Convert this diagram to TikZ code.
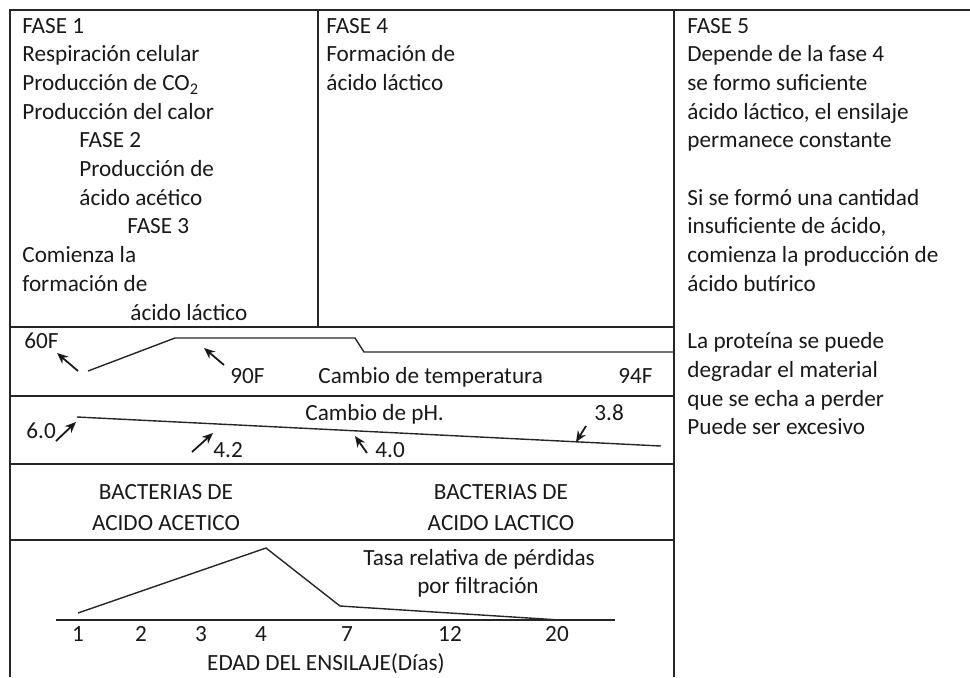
\documentclass[tikz,border=0pt]{standalone}
\usepackage{fontspec}
\setmainfont{Carlito}
\usetikzlibrary{positioning, calc, arrows.meta}

\begin{document}
\begin{tikzpicture}[x=0.5pt, y=-0.5pt,
  txt/.style={inner sep=0pt, anchor=base west, text=black!90, font=\fontsize{11.6}{14}\selectfont},
  ctxt/.style={txt, anchor=base},
  grid/.style={line width=0.9pt, draw=black!85},
  curve/.style={line width=0.7pt, draw=black!85},
  ptr/.style={-{Stealth[length=5.5pt, width=4.6pt]}, line width=0.9pt, draw=black!90, fill=black!90}]

\useasboundingbox (0,0) rectangle (970,677);

% frame
\draw[grid] (10,677) -- (10,10) -- (970,10);
\draw[grid] (674,10) -- (674,677);
\draw[grid] (318,10) -- (318,327);
\foreach \y in {327,396,464,540} \draw[grid] (10,\y) -- (674,\y);

% fases 1-3
\foreach \x/\t [count=\i from 0] in {22/FASE 1, 22/Respiración celular, 22/Producción de CO\textsubscript{2}, 22/Producción del calor, 79/FASE 2, 79/Producción de, 79/ácido acético, 127/FASE 3, 22/Comienza la, 22/formación de, 130/ácido láctico}
  \node[txt] (fa-\i) at (\x, 33+28.7*\i) {\t};

% fase 4
\foreach \t [count=\i from 0] in {FASE 4, Formación de, ácido láctico}
  \node[txt] (fb-\i) at (326, 33+28.7*\i) {\t};

% fase 5
\foreach \n/\t in {0/FASE 5, 1/Depende de la fase 4, 2/se formo suficiente, 3/{ácido láctico, el ensilaje}, 4/permanece constante, 6/Si se formó una cantidad, 7/{insuficiente de ácido,}, 8/comienza la producción de, 9/ácido butírico, 11/La proteína se puede, 12/degradar el material, 13/que se echa a perder, 14/Puede ser excesivo}
  \node[txt] (fc-\n) at (687, 33+28.7*\n) {\t};

% temperatura
\node[txt] (t60) at (24,348) {60F};
\node[txt] (t90) at (230,383) {90F};
\node[txt] (tlabel) at (318,383) {Cambio de temperatura};
\node[txt] (t94) at (618,383) {94F};
\coordinate (ta) at (88,371);
\coordinate (tb) at (175,338);
\coordinate (tc) at (355,338);
\coordinate (td) at (364,352);
\coordinate (te) at (674,352);
\draw[curve] (ta) -- (tb) -- (tc) -- (td) -- (te);
\coordinate (t60s) at (78,371);
\coordinate (t60e) at (57,353);
\draw[ptr] (t60s) -- (t60e);
\coordinate (t90s) at (224,365);
\coordinate (t90e) at (204,348);
\draw[ptr] (t90s) -- (t90e);

% pH
\node[txt] (phlabel) at (305,420) {Cambio de pH.};
\node[txt] (ph60) at (26,438) {6.0};
\node[txt] (ph42) at (213,457) {4.2};
\node[txt] (ph40) at (375,457) {4.0};
\node[txt] (ph38) at (594,420) {3.8};
\coordinate (pha) at (77,417);
\coordinate (phb) at (661,446);
\draw[curve] (pha) -- (phb);
\coordinate (ph60s) at (56,441);
\coordinate (ph60e) at (76,422);
\draw[ptr] (ph60s) -- (ph60e);
\coordinate (ph42s) at (192,452);
\coordinate (ph42e) at (213,433);
\draw[ptr] (ph42s) -- (ph42e);
\coordinate (ph40s) at (367,453);
\coordinate (ph40e) at (355,436);
\draw[ptr] (ph40s) -- (ph40e);
\coordinate (ph38s) at (586,426);
\coordinate (ph38e) at (576,442);
\draw[ptr] (ph38s) -- (ph38e);

% bacterias
\node[ctxt] (bac1) at (166,499) {BACTERIAS DE};
\node[ctxt] (bac2) at (166,530) {ACIDO ACETICO};
\node[ctxt] (bla1) at (501,499) {BACTERIAS DE};
\node[ctxt] (bla2) at (501,530) {ACIDO LACTICO};

% perdidas
\node[ctxt] (tasa1) at (479,565) {Tasa relativa de pérdidas};
\node[ctxt] (tasa2) at (478,593) {por filtración};
\coordinate (la) at (78,613);
\coordinate (lb) at (266,548);
\coordinate (lc) at (340,606);
\coordinate (ld) at (560,620);
\draw[curve] (la) -- (lb) -- (lc) -- (ld);
\coordinate (ax0) at (56,620);
\coordinate (ax1) at (615,620);
\draw[curve] (ax0) -- (ax1);
\foreach \x/\t in {78/1, 141/2, 201/3, 261/4, 347/7, 450/12, 557/20}
  \node[ctxt] (d\t) at (\x,641) {\t};
\node[ctxt] (edad) at (326,670) {EDAD DEL ENSILAJE(Días)};
\end{tikzpicture}
\end{document}
